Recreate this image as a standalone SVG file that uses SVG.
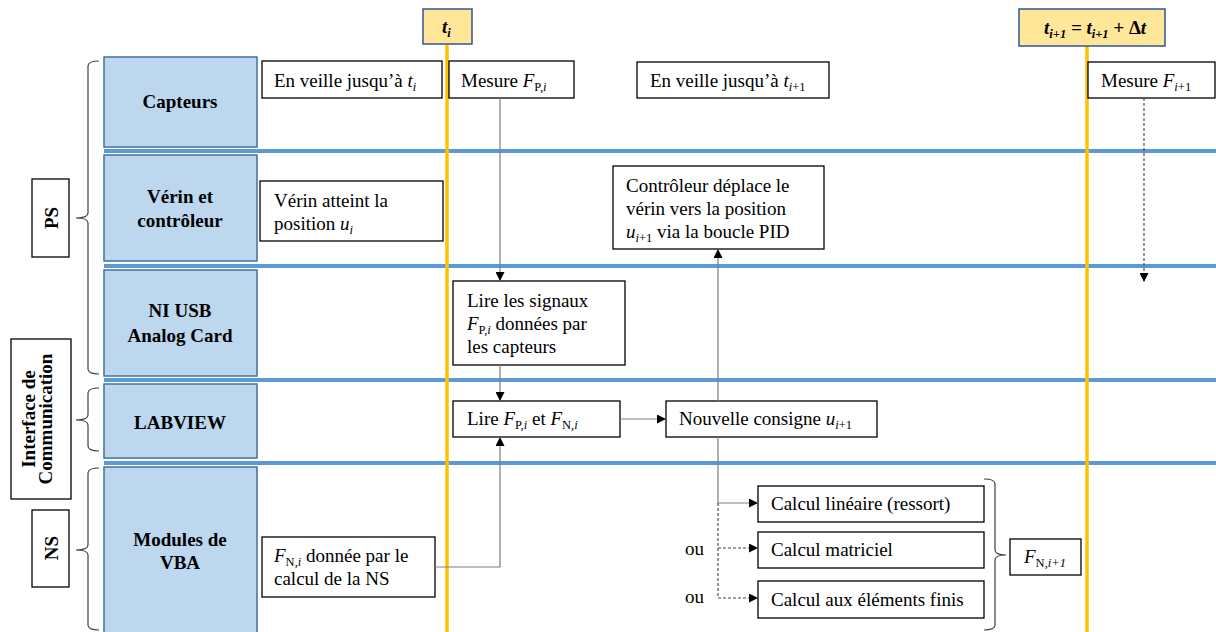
<svg xmlns="http://www.w3.org/2000/svg" width="1216" height="632" viewBox="0 0 1216 632">
<style>
text{font-family:"Liberation Serif","Times New Roman",serif;font-size:19px;fill:#000}
.b{font-weight:bold}
.c{text-anchor:middle}
.i{font-style:italic}
.s{font-size:12.5px}
.lane{fill:#bdd7ee;stroke:#41719c;stroke-width:1.5}
.box{fill:#fff;stroke:#000;stroke-width:1.3}
.tl{fill:#ffe699;stroke:#2f5597;stroke-width:1.5}
.sep{stroke:#5b9bd5;stroke-width:4}
.time{stroke:#ffc000;stroke-width:3.5}
.br{fill:none;stroke:#404040;stroke-width:1.2}
.cn{fill:none;stroke:#7f7f7f;stroke-width:1.2}
.dash{fill:none;stroke:#444;stroke-width:1.1;stroke-dasharray:3 2}
</style>
<defs>
<marker id="arr" viewBox="0 0 10 10" refX="10" refY="5" markerWidth="9" markerHeight="9" markerUnits="userSpaceOnUse" orient="auto"><path d="M0,0 L10,5 L0,10 z" fill="#000"/></marker>
</defs>
<rect width="1216" height="632" fill="#fff"/>

<g id="separators">
<line class="sep" x1="104" y1="151" x2="1216" y2="151"/>
<line class="sep" x1="104" y1="266" x2="1216" y2="266"/>
<line class="sep" x1="104" y1="380" x2="1216" y2="380"/>
<line class="sep" x1="104" y1="463" x2="1216" y2="463"/>
</g>

<g id="timelines">
<line class="time" x1="447" y1="45" x2="447" y2="632"/>
<line class="time" x1="1087" y1="46" x2="1087" y2="632"/>
</g>

<g id="t-i">
<rect class="tl" x="423" y="9" width="49" height="35"/>
<text class="b i" x="442" y="33">t<tspan class="s" dy="4">i</tspan></text>
</g>
<g id="t-i1">
<rect class="tl" x="1019" y="9" width="146" height="37"/>
<text class="b i" x="1044" y="34">t<tspan class="s" dy="4">i+1</tspan><tspan dy="-4"> = t</tspan><tspan class="s" dy="4">i+1</tspan><tspan dy="-4"> + </tspan><tspan style="font-style:normal">Δ</tspan>t</text>
</g>

<g id="brackets">
<path class="br" d="M99,61 Q88,61 88,66 L88,213 Q88,218 76,218 Q88,218 88,223 L88,369 Q88,374 99,374"/>
<path class="br" d="M99,388 Q88,388 88,393 L88,415 Q88,420 76,420 Q88,420 88,425 L88,446 Q88,451 99,451"/>
<path class="br" d="M99,468 Q88,468 88,473 L88,545 Q88,550 76,550 Q88,550 88,555 L88,625 Q88,630 99,630"/>
<path class="br" d="M984,479 Q995,479 995,484 L995,550 Q995,555 1006,555 Q995,555 995,560 L995,625 Q995,630 984,630"/>
</g>

<g id="PS">
<rect class="box" x="32" y="179" width="37" height="78"/>
<text class="b c" transform="translate(58,218) rotate(-90)">PS</text>
</g>
<g id="Interface">
<rect class="box" x="11" y="339" width="60" height="160"/>
<text class="b c" transform="translate(35,419) rotate(-90)">Interface de</text>
<text class="b c" transform="translate(52,419) rotate(-90)">Communication</text>
</g>
<g id="NS">
<rect class="box" x="32" y="510" width="37" height="77"/>
<text class="b c" transform="translate(58,548) rotate(-90)">NS</text>
</g>

<g id="Capteurs">
<rect class="lane" x="104" y="57" width="153" height="90"/>
<text class="b c" x="180" y="108">Capteurs</text>
</g>
<g id="Verin">
<rect class="lane" x="104" y="155" width="153" height="106"/>
<text class="b c" x="180" y="203">Vérin et</text>
<text class="b c" x="180" y="227">contrôleur</text>
</g>
<g id="NIUSB">
<rect class="lane" x="104" y="270" width="153" height="106"/>
<text class="b c" x="180" y="317">NI USB</text>
<text class="b c" x="180" y="342">Analog Card</text>
</g>
<g id="LABVIEW">
<rect class="lane" x="104" y="384" width="153" height="74"/>
<text class="b c" x="180" y="429">LABVIEW</text>
</g>
<g id="VBA">
<rect class="lane" x="104" y="467" width="153" height="170"/>
<text class="b c" x="180" y="546">Modules de</text>
<text class="b c" x="180" y="569">VBA</text>
</g>

<g id="veille-i">
<rect class="box" x="262" y="61" width="180" height="37"/>
<text x="274" y="87">En veille jusqu’à <tspan class="i">t</tspan><tspan class="s i" dy="4">i</tspan></text>
</g>
<g id="mesure-i">
<rect class="box" x="449" y="61" width="125" height="37"/>
<text x="461" y="87">Mesure <tspan class="i">F</tspan><tspan class="s" dy="4">P,</tspan><tspan class="s i">i</tspan></text>
</g>
<g id="veille-i1">
<rect class="box" x="637" y="62" width="192" height="36"/>
<text x="650" y="87">En veille jusqu’à <tspan class="i">t</tspan><tspan class="s i" dy="4">i</tspan><tspan class="s">+1</tspan></text>
</g>
<g id="mesure-i1">
<rect class="box" x="1088" y="62" width="127" height="36"/>
<text x="1101" y="87">Mesure <tspan class="i">F</tspan><tspan class="s i" dy="4">i</tspan><tspan class="s">+1</tspan></text>
</g>
<g id="verin-atteint">
<rect class="box" x="260" y="181" width="183" height="60"/>
<text x="274" y="207">Vérin atteint la</text>
<text x="274" y="230">position <tspan class="i">u</tspan><tspan class="s i" dy="4">i</tspan></text>
</g>
<g id="controleur">
<rect class="box" x="613" y="166" width="211" height="83"/>
<text x="626" y="192">Contrôleur déplace le</text>
<text x="626" y="215">vérin vers la position</text>
<text x="626" y="238"><tspan class="i">u</tspan><tspan class="s i" dy="4">i</tspan><tspan class="s">+1</tspan><tspan dy="-4"> via la boucle PID</tspan></text>
</g>
<g id="lire-signaux">
<rect class="box" x="453" y="281" width="172" height="84"/>
<text x="467" y="307">Lire les signaux</text>
<text x="467" y="330"><tspan class="i">F</tspan><tspan class="s" dy="4">P,</tspan><tspan class="s i">i</tspan><tspan dy="-4"> données par</tspan></text>
<text x="467" y="353">les capteurs</text>
</g>
<g id="lire-F">
<rect class="box" x="453" y="401" width="167" height="36"/>
<text x="467" y="425">Lire <tspan class="i">F</tspan><tspan class="s" dy="4">P,</tspan><tspan class="s i">i</tspan><tspan dy="-4"> et </tspan><tspan class="i">F</tspan><tspan class="s" dy="4">N,</tspan><tspan class="s i">i</tspan></text>
</g>
<g id="consigne">
<rect class="box" x="666" y="401" width="211" height="36"/>
<text x="679" y="425">Nouvelle consigne <tspan class="i">u</tspan><tspan class="s i" dy="4">i</tspan><tspan class="s">+1</tspan></text>
</g>
<g id="FN-i">
<rect class="box" x="262" y="537" width="173" height="60"/>
<text x="274" y="562"><tspan class="i">F</tspan><tspan class="s" dy="4">N,</tspan><tspan class="s i">i</tspan><tspan dy="-4"> donnée par le</tspan></text>
<text x="274" y="585">calcul de la NS</text>
</g>
<g id="calc-lin">
<rect class="box" x="758" y="486" width="226" height="36"/>
<text x="771" y="510">Calcul linéaire (ressort)</text>
</g>
<g id="calc-mat">
<rect class="box" x="758" y="532" width="226" height="36"/>
<text x="771" y="556">Calcul matriciel</text>
</g>
<g id="calc-ef">
<rect class="box" x="758" y="581" width="226" height="37"/>
<text x="771" y="606">Calcul aux éléments finis</text>
</g>
<g id="FN-i1">
<rect class="box" x="1010" y="539" width="71" height="36"/>
<text x="1024" y="563"><tspan class="i">F</tspan><tspan class="s" dy="4">N,</tspan><tspan class="s i">i+1</tspan></text>
</g>
<g id="ou-labels">
<text x="685" y="555">ou</text>
<text x="685" y="603">ou</text>
</g>

<g id="connectors">
<path class="cn" d="M500,98 V281" marker-end="url(#arr)"/>
<path class="cn" d="M500,365 V401" marker-end="url(#arr)"/>
<path class="cn" d="M435,567 H500 V437" marker-end="url(#arr)"/>
<path class="cn" d="M620,419 H666" marker-end="url(#arr)"/>
<path class="cn" d="M718,401 V249" marker-end="url(#arr)"/>
<path class="cn" d="M718,437 V503 H758" marker-end="url(#arr)"/>
<path class="dash" d="M718,503 V598 H758" marker-end="url(#arr)"/>
<path class="dash" d="M718,548 H758" marker-end="url(#arr)"/>
<path class="dash" d="M1144,98 V282" marker-end="url(#arr)"/>
</g>
</svg>
